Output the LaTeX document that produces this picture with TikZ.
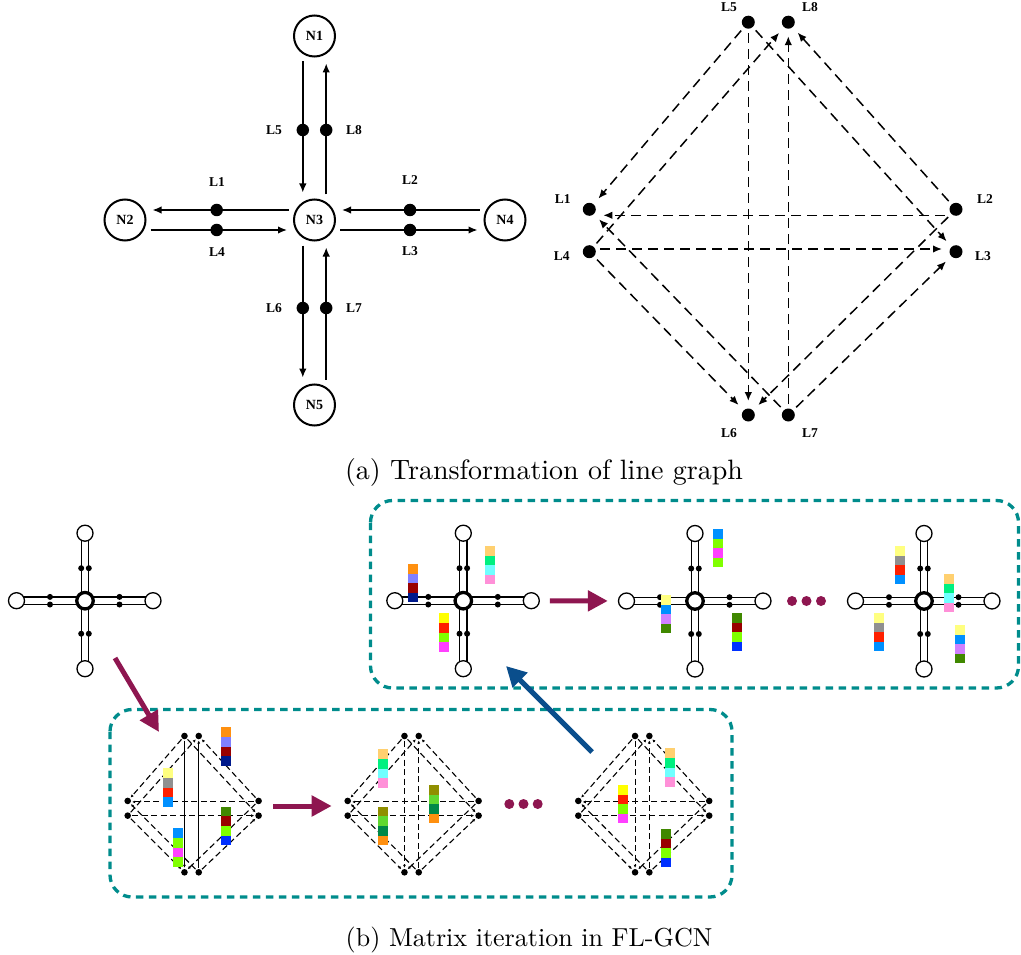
\documentclass[tikz,border=0pt]{standalone}
\usepackage{fontspec}
\newfontfamily\labfont{Liberation Serif}
\usetikzlibrary{arrows.meta,backgrounds}

\definecolor{maroonA}{RGB}{142,22,80}
\definecolor{blueA}{RGB}{10,78,140}
\definecolor{tealA}{RGB}{0,140,140}
% feature colours of the cells
\definecolor{cOrange}{HTML}{FF9010}
\definecolor{cPeri}{HTML}{8080FF}
\definecolor{cDRed}{HTML}{990000}
\definecolor{cNavy}{HTML}{001A8C}
\definecolor{cLOrange}{HTML}{FFD070}
\definecolor{cSpring}{HTML}{00F080}
\definecolor{cLCyan}{HTML}{70FFFF}
\definecolor{cPink}{HTML}{FF90D8}
\definecolor{cYellow}{HTML}{FFFF00}
\definecolor{cRed}{HTML}{FF2000}
\definecolor{cLime}{HTML}{80FF00}
\definecolor{cMag}{HTML}{FF40FF}
\definecolor{cLYellow}{HTML}{FFFF80}
\definecolor{cBlue}{HTML}{0090FF}
\definecolor{cLav}{HTML}{D080FF}
\definecolor{cGreen}{HTML}{408800}
\definecolor{cBlueB}{HTML}{0030FF}
\definecolor{cGray}{HTML}{909090}
\definecolor{cOlive}{HTML}{908F00}
\definecolor{cLGreen}{HTML}{60D830}
\definecolor{cDGreen}{HTML}{008848}

% eight link nodes of a line graph: prefix, origin x, origin y, x scale, y scale, dot style
\newcommand\LGnodes[6]{%
  \node[#6] (#11) at ({#2},{#3+#5*187.1}) {};
  \node[#6] (#12) at ({#2+#4*366.7},{#3+#5*187.1}) {};
  \node[#6] (#13) at ({#2+#4*366.7},{#3+#5*229.5}) {};
  \node[#6] (#14) at ({#2},{#3+#5*229.5}) {};
  \node[#6] (#15) at ({#2+#4*159},{#3}) {};
  \node[#6] (#16) at ({#2+#4*159},{#3+#5*392.8}) {};
  \node[#6] (#17) at ({#2+#4*199},{#3+#5*392.8}) {};
  \node[#6] (#18) at ({#2+#4*199},{#3}) {};
}
% twelve turning movements: prefix, edge style, straight-through style, shifts of the two horizontals
\newcommand\LGedges[5]{%
  \draw[#2] (#15.center) -- (#11.center);
  \draw[#3] (#15.center) -- (#16.center);
  \draw[#2] (#15.center) -- (#13.center);
  \draw[#2] (#14.center) -- (#18.center);
  \draw[#2] ([yshift=#5]#14.center) -- ([yshift=#5]#13.center);
  \draw[#2] (#14.center) -- (#16.center);
  \draw[#2] (#12.center) -- (#18.center);
  \draw[#2] ([yshift=#4]#12.center) -- ([yshift=#4]#11.center);
  \draw[#2] (#12.center) -- (#16.center);
  \draw[#3] (#17.center) -- (#18.center);
  \draw[#2] (#17.center) -- (#13.center);
  \draw[#2] (#17.center) -- (#11.center);
}
% small intersection icon: prefix, centre x, centre y
\newcommand\Cross[3]{%
  \node[hub]  (#1c) at (#2,#3) {};
  \node[ring] (#1t) at (#2,#3-67.5) {};
  \node[ring] (#1b) at (#2,#3+68) {};
  \node[ring] (#1l) at (#2-68.5,#3) {};
  \node[ring] (#1r) at (#2+68,#3) {};
  \begin{scope}[on background layer]
    \draw[rail] (#1t) -- (#1c);
    \draw[rail] (#1b) -- (#1c);
    \draw[rail] (#1l) -- (#1c);
    \draw[rail] (#1r) -- (#1c);
  \end{scope}
  \node[jdot] (#1d1) at (#2-3.8,#3-32.5) {};
  \node[jdot] (#1d2) at (#2+3.8,#3-32.5) {};
  \node[jdot] (#1d3) at (#2-3.8,#3+33) {};
  \node[jdot] (#1d4) at (#2+3.8,#3+33) {};
  \node[jdot] (#1d5) at (#2-35,#3-3.8) {};
  \node[jdot] (#1d6) at (#2-35,#3+3.8) {};
  \node[jdot] (#1d7) at (#2+34.5,#3-3.8) {};
  \node[jdot] (#1d8) at (#2+34.5,#3+3.8) {};
}
% column of four feature cells: left x, top y, four colours
\newcommand\cstack[6]{%
  \fill[#3] (#1,#2) rectangle ++(10,9.6);
  \fill[#4] (#1,#2+9.6) rectangle ++(10,9.6);
  \fill[#5] (#1,#2+19.2) rectangle ++(10,9.6);
  \fill[#6] (#1,#2+28.8) rectangle ++(10,9.6);
}

\begin{document}
\begin{tikzpicture}[x=1pt,y=-1pt,
  nnode/.style={circle,draw,line width=2pt,minimum size=41pt,inner sep=0pt,
    font=\labfont\bfseries\fontsize{14}{14}\selectfont},
  ndot/.style={circle,fill,inner sep=0pt,minimum size=12.5pt},
  gdot/.style={circle,fill,inner sep=0pt,minimum size=13pt},
  sdot/.style={circle,fill,inner sep=0pt,minimum size=6.6pt},
  ltext/.style={inner sep=0pt,font=\labfont\bfseries\fontsize{13.5}{14}\selectfont},
  flow/.style={line width=1.5pt,-{Latex[length=9pt,width=7.5pt]},shorten <=4pt,shorten >=6pt},
  lgedge/.style={line width=1.5pt,dash pattern=on 10pt off 6pt,
    -{Latex[length=9pt,width=7.5pt]},shorten <=11pt,shorten >=14pt},
  sedge/.style={line width=1.1pt,dash pattern=on 6pt off 3.5pt,
    -{Latex[length=3pt,width=3pt]},shorten <=4.5pt,shorten >=4.5pt},
  ssolid/.style={line width=1.1pt,-{Latex[length=3pt,width=3pt]},shorten <=4.5pt,shorten >=4.5pt},
  ring/.style={circle,draw,line width=1.3pt,fill=white,minimum size=16pt,inner sep=0pt},
  hub/.style={circle,draw,line width=3.3pt,fill=white,minimum size=16.5pt,inner sep=0pt},
  rail/.style={double,double distance=6.3pt,line width=1.3pt,shorten <=-2pt,shorten >=-2pt},
  jdot/.style={circle,fill,inner sep=0pt,minimum size=6pt},
  tealbox/.style={draw=tealA,line width=3.3pt,dash pattern=on 7.5pt off 5.5pt,rounded corners=22pt},
  bigarrow/.style={line width=5pt,-{Triangle[length=20pt,width=20pt]}},
  pause/.style={circle,fill=maroonA,inner sep=0pt,minimum size=10pt},
  caption/.style={anchor=base,inner sep=0pt,font=\fontsize{10}{12}\selectfont}
]
\useasboundingbox (0,0) rectangle (1021,955);

% ---------- (a) road network ----------
\node[nnode] (N1) at (314.5,36) {N1};
\node[nnode] (N2) at (125,220) {N2};
\node[nnode] (N3) at (314.5,220) {N3};
\node[nnode] (N4) at (505,220) {N4};
\node[nnode] (N5) at (314.5,405) {N5};

\draw[flow] ([xshift=-11.7pt]N1.south) -- ([xshift=-11.7pt]N3.north);
\draw[flow] ([xshift=11.7pt]N3.north) -- ([xshift=11.7pt]N1.south);
\draw[flow] ([yshift=10pt]N3.west) -- ([yshift=10pt]N2.east);
\draw[flow] ([yshift=-10pt]N2.east) -- ([yshift=-10pt]N3.west);
\draw[flow] ([yshift=10pt]N4.west) -- ([yshift=10pt]N3.east);
\draw[flow] ([yshift=-10pt]N3.east) -- ([yshift=-10pt]N4.west);
\draw[flow] ([xshift=-11.7pt]N3.south) -- ([xshift=-11.7pt]N5.north);
\draw[flow] ([xshift=11.7pt]N5.north) -- ([xshift=11.7pt]N3.south);

\node[ndot] (d5) at (302.8,130) {};
\node[ndot] (d8) at (326.2,130) {};
\node[ndot] (d1) at (216.7,210) {};
\node[ndot] (d4) at (216.7,230) {};
\node[ndot] (d2) at (410,210) {};
\node[ndot] (d3) at (410,230) {};
\node[ndot] (d6) at (302.8,308) {};
\node[ndot] (d7) at (326.2,308) {};

\node[ltext] (t5) at (274,130) {L5};
\node[ltext] (t8) at (354,130) {L8};
\node[ltext] (t1) at (217,182) {L1};
\node[ltext] (t4) at (217,252) {L4};
\node[ltext] (t2) at (410,180) {L2};
\node[ltext] (t3) at (410,251) {L3};
\node[ltext] (t6) at (274,308) {L6};
\node[ltext] (t7) at (354,308) {L7};

% ---------- (a) line graph ----------
\LGnodes{L}{589.3}{22.2}{1}{1}{gdot}
\LGedges{L}{lgedge}{lgedge}{-6pt}{2.7pt}
\node[ltext] (m5) at (729,7) {L5};
\node[ltext] (m8) at (810,7) {L8};
\node[ltext] (m1) at (562.7,199) {L1};
\node[ltext] (m2) at (985,199) {L2};
\node[ltext] (m4) at (561.7,256) {L4};
\node[ltext] (m3) at (983,256) {L3};
\node[ltext] (m6) at (729,433) {L6};
\node[ltext] (m7) at (810,433) {L7};

\node[caption,scale=2.8] (capa) at (544,479) {(a) Transformation of line graph};

% ---------- (b) frames ----------
\draw[tealbox] (370.5,500.5) rectangle (1018.5,688);
\draw[tealbox] (110,709.5) rectangle (732,897);

% input network and the node-feature iteration
\Cross{a}{85}{600.7}
\Cross{b}{463.3}{600.7}
\Cross{c}{695}{601}
\Cross{e}{924}{601}

\draw[bigarrow,maroonA,shorten <=10pt,shorten >=10pt] (br) -- (cl);
\node[pause] (u1) at (792,601) {};
\node[pause] (u2) at (806.5,601) {};
\node[pause] (u3) at (821,601) {};

% line-graph iteration
\LGnodes{p}{127.7}{736}{0.357}{0.347}{sdot}
\LGedges{p}{sedge}{ssolid}{-1pt}{0pt}
\LGnodes{q}{347.7}{736}{0.357}{0.347}{sdot}
\LGedges{q}{sedge}{sedge}{-1pt}{0pt}
\LGnodes{r}{578.3}{736}{0.357}{0.347}{sdot}
\LGedges{r}{sedge}{sedge}{-1pt}{0pt}

\coordinate (s0) at (273.3,806);
\coordinate (s1) at (331.7,806);
\draw[bigarrow,maroonA] (s0) -- (s1);
\node[pause] (v1) at (509.3,804) {};
\node[pause] (v2) at (523.5,804) {};
\node[pause] (v3) at (537.7,804) {};

% feature cells, upper frame
\cstack{408.3}{564}{cOrange}{cPeri}{cDRed}{cNavy}
\cstack{485}{546}{cLOrange}{cSpring}{cLCyan}{cPink}
\cstack{439}{613.3}{cYellow}{cRed}{cLime}{cMag}
\cstack{661}{595}{cLYellow}{cBlue}{cLav}{cGreen}
\cstack{713.3}{529}{cBlue}{cLime}{cMag}{cLime}
\cstack{732}{613}{cGreen}{cDRed}{cLime}{cBlueB}
\cstack{895.3}{546}{cLYellow}{cGray}{cRed}{cBlue}
\cstack{943.5}{574}{cLOrange}{cSpring}{cLCyan}{cPink}
\cstack{874}{613}{cLYellow}{cGray}{cRed}{cBlue}
\cstack{954.5}{625}{cLYellow}{cBlue}{cLav}{cGreen}
% feature cells, lower frame
\cstack{162.7}{768.3}{cLYellow}{cGray}{cRed}{cBlue}
\cstack{221}{727.3}{cOrange}{cPeri}{cDRed}{cNavy}
\cstack{172.7}{828.3}{cBlue}{cLime}{cMag}{cLime}
\cstack{221}{806.7}{cGreen}{cDRed}{cLime}{cBlueB}
\cstack{378.3}{749.3}{cLOrange}{cSpring}{cLCyan}{cPink}
\cstack{378.3}{806.7}{cOlive}{cLGreen}{cDGreen}{cOrange}
\cstack{429.3}{785}{cOlive}{cLGreen}{cDGreen}{cOrange}
\cstack{618.3}{785}{cYellow}{cRed}{cLime}{cMag}
\cstack{665}{748.3}{cLOrange}{cSpring}{cLCyan}{cPink}
\cstack{660.7}{829}{cGreen}{cDRed}{cLime}{cBlueB}

% flow between the stages
\coordinate (w0) at (115,658);
\coordinate (w1) at (159,732);
\draw[bigarrow,maroonA] (w0) -- (w1);
\coordinate (z0) at (592,752);
\coordinate (z1) at (506,666);
\draw[bigarrow,blueA] (z0) -- (z1);

\node[caption,scale=2.6] (capb) at (529,946) {(b) Matrix iteration in FL-GCN};
\end{tikzpicture}
\end{document}
